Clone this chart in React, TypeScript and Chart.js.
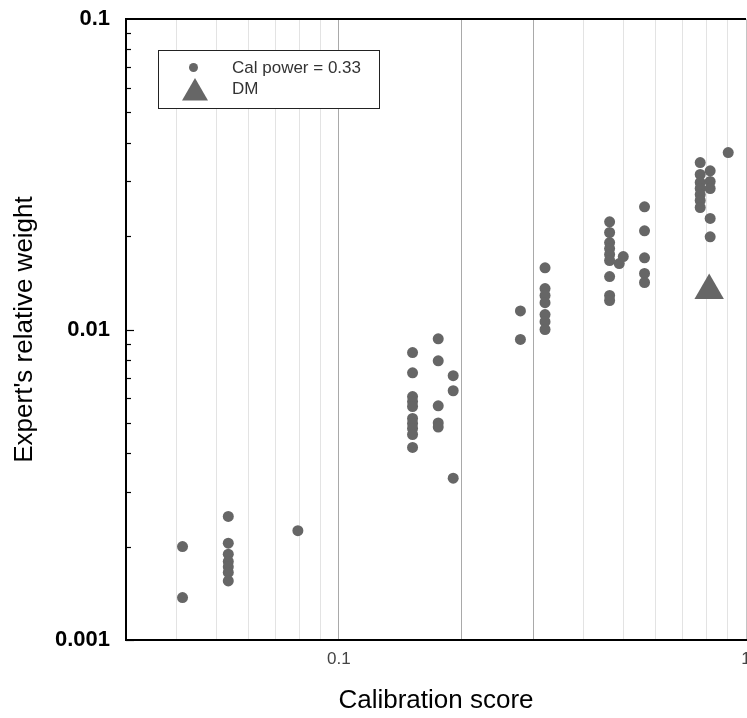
import React, { useEffect, useRef } from "react";
import { Chart, registerables } from "chart.js";

Chart.register(...registerables);

// ---- data ----
const expertCalibration = [
  0.0413, 0.0413,
  0.0535, 0.0535, 0.0535, 0.0535, 0.0535, 0.0535, 0.0535,
  0.0793,
  0.1517, 0.1517, 0.1517, 0.1517, 0.1517, 0.1517, 0.1517, 0.1517, 0.1517, 0.1517,
  0.1754, 0.1754, 0.1754, 0.1754, 0.1754,
  0.1909, 0.1909, 0.1909,
  0.2792, 0.2792,
  0.3209, 0.3209, 0.3209, 0.3209, 0.3209, 0.3209, 0.3209,
  0.4624, 0.4624, 0.4624, 0.4624, 0.4624, 0.4624, 0.4624, 0.4624, 0.4624,
  0.4995, 0.4883,
  0.5633, 0.5633, 0.5633, 0.5633, 0.5633,
  0.7718, 0.7718, 0.7718, 0.7718, 0.7718, 0.7718, 0.7718,
  0.8166, 0.8166, 0.8166, 0.8166, 0.8166,
  0.9043,
];
const expertWeight = [
  0.00200, 0.00137,
  0.00250, 0.00205, 0.00189, 0.00179, 0.00172, 0.00165, 0.00155,
  0.00225,
  0.00843, 0.00725, 0.00608, 0.00586, 0.00565, 0.00517, 0.00498, 0.00480, 0.00459, 0.00417,
  0.00933, 0.00793, 0.00568, 0.00500, 0.00485,
  0.00710, 0.00635, 0.00332,
  0.01148, 0.00929,
  0.01580, 0.01355, 0.01287, 0.01220, 0.01117, 0.01060, 0.01000,
  0.02223, 0.02053, 0.01906, 0.01823, 0.01744, 0.01668, 0.01481, 0.01287, 0.01240,
  0.01718, 0.01631,
  0.02483, 0.02079, 0.01702, 0.01515, 0.01417,
  0.03448, 0.03157, 0.02975, 0.02845, 0.02721, 0.02603, 0.02471,
  0.03245, 0.02997, 0.02845, 0.02279, 0.01989,
  0.03715,
];
const dmCalibration = [0.812];
const dmWeight = [0.01335];

const seriesLabels = ["Cal power = 0.33", "DM"];
const xTickValues = [0.03, 0.04, 0.05, 0.06, 0.07, 0.08, 0.09, 0.1, 0.2, 0.3, 0.4, 0.5, 0.6, 0.7, 0.8, 0.9, 1];
const xLabelledTicks = [0.1, 1];
const xLabelText = ["0.1", "1"];
const yTickValues = [0.001, 0.01, 0.1];
const yLabelText = ["0.001", "0.01", "0.1"];
const xTitle = "Calibration score";
const yTitle = "Expert's relative weight";

const MARK = "#666666";
const FONT = "'Liberation Sans', Arial, sans-serif";

const framePlugin = {
  id: "frame",
  afterDraw(chart: any) {
    const { ctx, chartArea } = chart;
    const y = chart.scales.y;
    ctx.save();
    ctx.strokeStyle = "#000";
    ctx.lineWidth = 2;
    ctx.beginPath();
    ctx.moveTo(chartArea.left, chartArea.top);
    ctx.lineTo(chartArea.right, chartArea.top);
    ctx.stroke();
    ctx.lineWidth = 1.2;
    for (let k = -3; k <= -2; k++) {
      for (let m = 1; m <= 9; m++) {
        const v = m * Math.pow(10, k);
        const py = Math.round(y.getPixelForValue(v)) + 0.5;
        const len = m === 1 ? 8 : 5;
        ctx.beginPath();
        ctx.moveTo(chartArea.left, py);
        ctx.lineTo(chartArea.left + len, py);
        ctx.stroke();
      }
    }
    const bx = 158, by = 50, bw = 221, bh = 58;
    ctx.fillStyle = "#fff";
    ctx.fillRect(bx, by, bw, bh);
    ctx.strokeStyle = "#222";
    ctx.lineWidth = 1;
    ctx.strokeRect(bx + 0.5, by + 0.5, bw, bh);
    const ds = chart.data.datasets;
    ctx.fillStyle = ds[0].backgroundColor;
    ctx.beginPath();
    ctx.arc(193.5, 67.5, 4.5, 0, Math.PI * 2);
    ctx.fill();
    const r = 15, cx = 195, cy = 93;
    ctx.fillStyle = ds[1].backgroundColor;
    ctx.beginPath();
    ctx.moveTo(cx, cy - r);
    ctx.lineTo(cx + r * Math.sin((2 * Math.PI) / 3), cy - r * Math.cos((2 * Math.PI) / 3));
    ctx.lineTo(cx + r * Math.sin((4 * Math.PI) / 3), cy - r * Math.cos((4 * Math.PI) / 3));
    ctx.closePath();
    ctx.fill();
    ctx.fillStyle = "#333";
    ctx.font = `17px ${FONT}`;
    ctx.textBaseline = "middle";
    ctx.textAlign = "left";
    ctx.fillText(ds[0].label, 232, 68);
    ctx.fillText(ds[1].label, 232, 89);
    ctx.restore();
  },
};

export default function App() {
  const ref = useRef<HTMLCanvasElement | null>(null);
  useEffect(() => {
    if (!ref.current) return;
    const chart = new Chart(ref.current, {
      type: "scatter",
      data: {
        datasets: [
          {
            label: seriesLabels[0],
            data: expertCalibration.map((x, i) => ({ x, y: expertWeight[i] })),
            backgroundColor: MARK,
            borderWidth: 0,
            pointStyle: "circle",
            pointRadius: 5.5,
          },
          {
            label: seriesLabels[1],
            data: dmCalibration.map((x, i) => ({ x, y: dmWeight[i] })),
            backgroundColor: MARK,
            borderWidth: 0,
            pointStyle: "triangle",
            pointRadius: 17,
          },
        ],
      },
      options: {
        responsive: false,
        animation: false,
        layout: { autoPadding: false, padding: { top: 19, left: 0, right: 1, bottom: 0 } },
        plugins: { legend: { display: false }, tooltip: { enabled: false } },
        scales: {
          x: {
            type: "logarithmic",
            min: 0.03,
            max: 1,
            afterBuildTicks: (s: any) => {
              s.ticks = xTickValues.map((v) => ({ value: v }));
            },
            afterFit: (s: any) => {
              s.height = 78;
              s.paddingLeft = 0;
              s.paddingRight = 0;
            },
            ticks: {
              autoSkip: false,
              maxRotation: 0,
              padding: 9,
              color: "#444",
              font: { family: FONT, size: 17 },
              callback: (v: any) => {
                const i = xLabelledTicks.indexOf(Number(v));
                return i >= 0 ? xLabelText[i] : "";
              },
            },
            grid: {
              drawTicks: false,
              lineWidth: 1,
              color: (c: any) => {
                const v = c.tick ? c.tick.value : 0;
                if (v === 0.1 || v === 0.2 || v === 0.3) return "#a9a9a9";
                if (v === 1) return "#c4c4c4";
                return "#e3e3e3";
              },
            },
            border: { color: "#000", width: 2 },
            title: {
              display: true,
              text: xTitle,
              color: "#000",
              font: { family: FONT, size: 26 },
              padding: { top: 0, bottom: 2 },
            },
          },
          y: {
            type: "logarithmic",
            min: 0.001,
            max: 0.1,
            afterBuildTicks: (s: any) => {
              s.ticks = yTickValues.map((v) => ({ value: v }));
            },
            afterFit: (s: any) => {
              s.width = 126;
              s.paddingTop = 0;
              s.paddingBottom = 0;
            },
            ticks: {
              padding: 16,
              color: "#000",
              font: { family: FONT, size: 22, weight: "bold" },
              callback: (v: any) => {
                const i = yTickValues.indexOf(Number(v));
                return i >= 0 ? yLabelText[i] : "";
              },
            },
            grid: { display: false, drawTicks: false },
            border: { color: "#000", width: 2 },
            title: {
              display: true,
              text: yTitle,
              color: "#000",
              font: { family: FONT, size: 26 },
              padding: { top: 9, bottom: 0 },
            },
          },
        },
      },
      plugins: [framePlugin],
    } as any);
    return () => chart.destroy();
  }, []);
  return (
    <div
      style={{
        position: "absolute",
        left: 0,
        top: 0,
        width: 747,
        height: 718,
        overflow: "hidden",
        background: "#fff",
      }}
    >
      <canvas ref={ref} width={747} height={718} style={{ width: 747, height: 718, display: "block" }} />
    </div>
  );
}
